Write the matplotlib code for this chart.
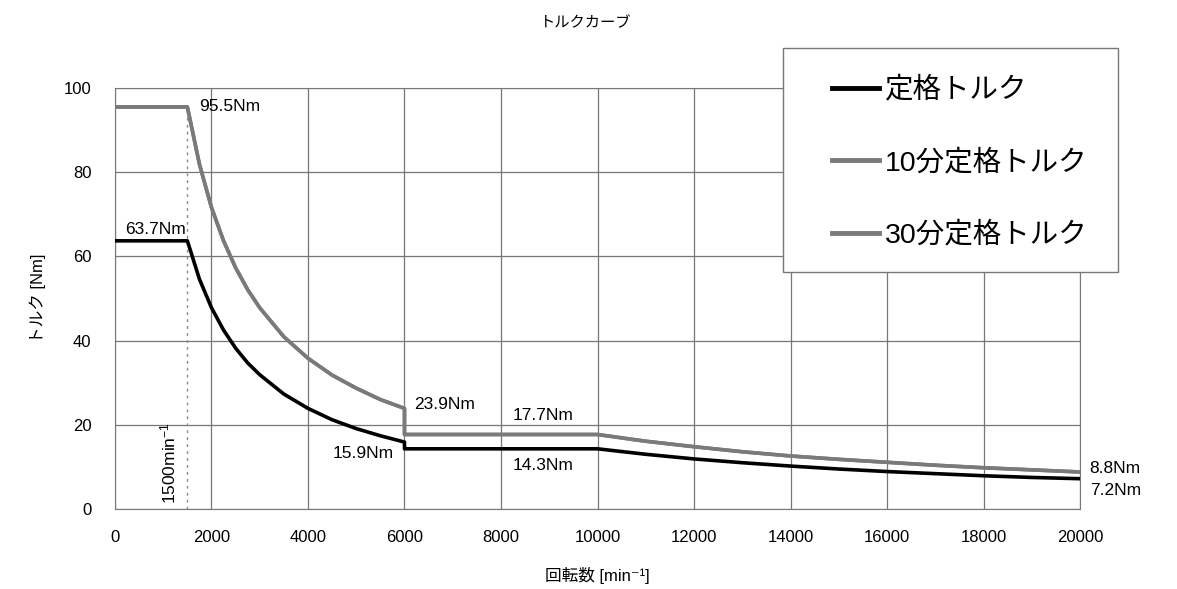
import matplotlib
matplotlib.use("Agg")
import matplotlib.pyplot as plt
from matplotlib.patches import Rectangle

plt.rcParams['font.family'] = ['Liberation Sans', 'Noto Sans CJK JP', 'DejaVu Sans']
plt.rcParams['mathtext.fontset'] = 'custom'
plt.rcParams['mathtext.rm'] = 'Liberation Sans'
plt.rcParams['mathtext.it'] = 'Liberation Sans'

# speed [min^-1] and torque [Nm]
speed = [0, 1500, 1750, 2000, 2250, 2500, 2750, 3000, 3500, 4000, 4500, 5000, 5500, 6000,
         6000, 8000, 10000, 11000, 12000, 13000, 14000, 15000, 16000, 17000, 18000, 19000, 20000]
rated = [63.7, 63.7, 54.6, 47.8, 42.5, 38.2, 34.7, 31.9, 27.3, 23.9, 21.2, 19.1, 17.4, 15.9,
         14.3, 14.3, 14.3, 13.0, 11.9, 11.0, 10.2, 9.5, 8.9, 8.4, 7.9, 7.5, 7.2]
rated_10min = [95.5, 95.5, 81.9, 71.6, 63.7, 57.3, 52.1, 47.8, 40.9, 35.8, 31.8, 28.7, 26.0, 23.9,
               17.7, 17.7, 17.7, 16.1, 14.8, 13.6, 12.6, 11.8, 11.1, 10.4, 9.8, 9.3, 8.8]
rated_30min = rated_10min

labels = ["定格トルク", "10分定格トルク", "30分定格トルク"]

# (text, x, y) value labels
notes = [("95.5Nm", 1750, 95.5), ("63.7Nm", 200, 66.5), ("23.9Nm", 6200, 24.8),
         ("17.7Nm", 8250, 22.3), ("15.9Nm", 4520, 13.2), ("14.3Nm", 8250, 10.3),
         ("8.8Nm", 20200, 9.6), ("7.2Nm", 20200, 4.3)]

fig = plt.figure(figsize=(11.77, 5.89), dpi=100)
ax = fig.add_axes([0.0977, 0.1358, 0.8199, 0.7148])

ax.plot(speed, rated, color="black", lw=2.6, label=labels[0], zorder=4)
ax.plot(speed, rated_10min, color="#7a7a7a", lw=2.6, label=labels[1], zorder=3)
ax.plot(speed, rated_30min, color="#7a7a7a", lw=2.6, label=labels[2], zorder=3)
ax.plot([1500, 1500], [0, 95.5], color="#888888", lw=1, ls=(0, (2, 3)), zorder=2)

ax.set_xlim(0, 20000)
ax.set_ylim(0, 100)
ax.set_xticks(range(0, 20001, 2000))
ax.set_yticks(range(0, 101, 20))
ax.grid(True, color="#777777", lw=0.9)
ax.tick_params(length=0, labelsize=12)
ax.tick_params(axis="x", pad=15)
ax.tick_params(axis="y", pad=17)
for s in ax.spines.values():
    s.set_color("#777777")

for txt, x, y in notes:
    ax.text(x, y, txt, fontsize=12.5, va="center", ha="left")
ax.text(1100, 11, "1500min$^{-1}$", fontsize=12.5, rotation=90, ha="center", va="center")

ax.set_xlabel("回転数 [min⁻¹]", fontsize=12, labelpad=16)
ax.set_ylabel("トルク [Nm]", fontsize=12, labelpad=13)
fig.text(0.498, 0.96, "トルクカーブ", fontsize=11, ha="center", va="center")

# legend box drawn separately so the padding can match
box = Rectangle((783 / 1177, 1 - 272 / 589), 335 / 1177, 224 / 589,
                transform=fig.transFigure, facecolor="white",
                edgecolor="#777777", lw=1, zorder=9, clip_on=False)
ax.add_patch(box)
leg = ax.legend(loc="upper left", bbox_to_anchor=(832 / 1177, 1 - 77 / 589),
                bbox_transform=fig.transFigure, frameon=False,
                fontsize=20.5, handlelength=1.65, handletextpad=0.2,
                labelspacing=1.6, borderpad=0, borderaxespad=0)
leg.set_zorder(10)
for ln in leg.get_lines():
    ln.set_linewidth(3.5)

fig.savefig("out.png", dpi=100)
